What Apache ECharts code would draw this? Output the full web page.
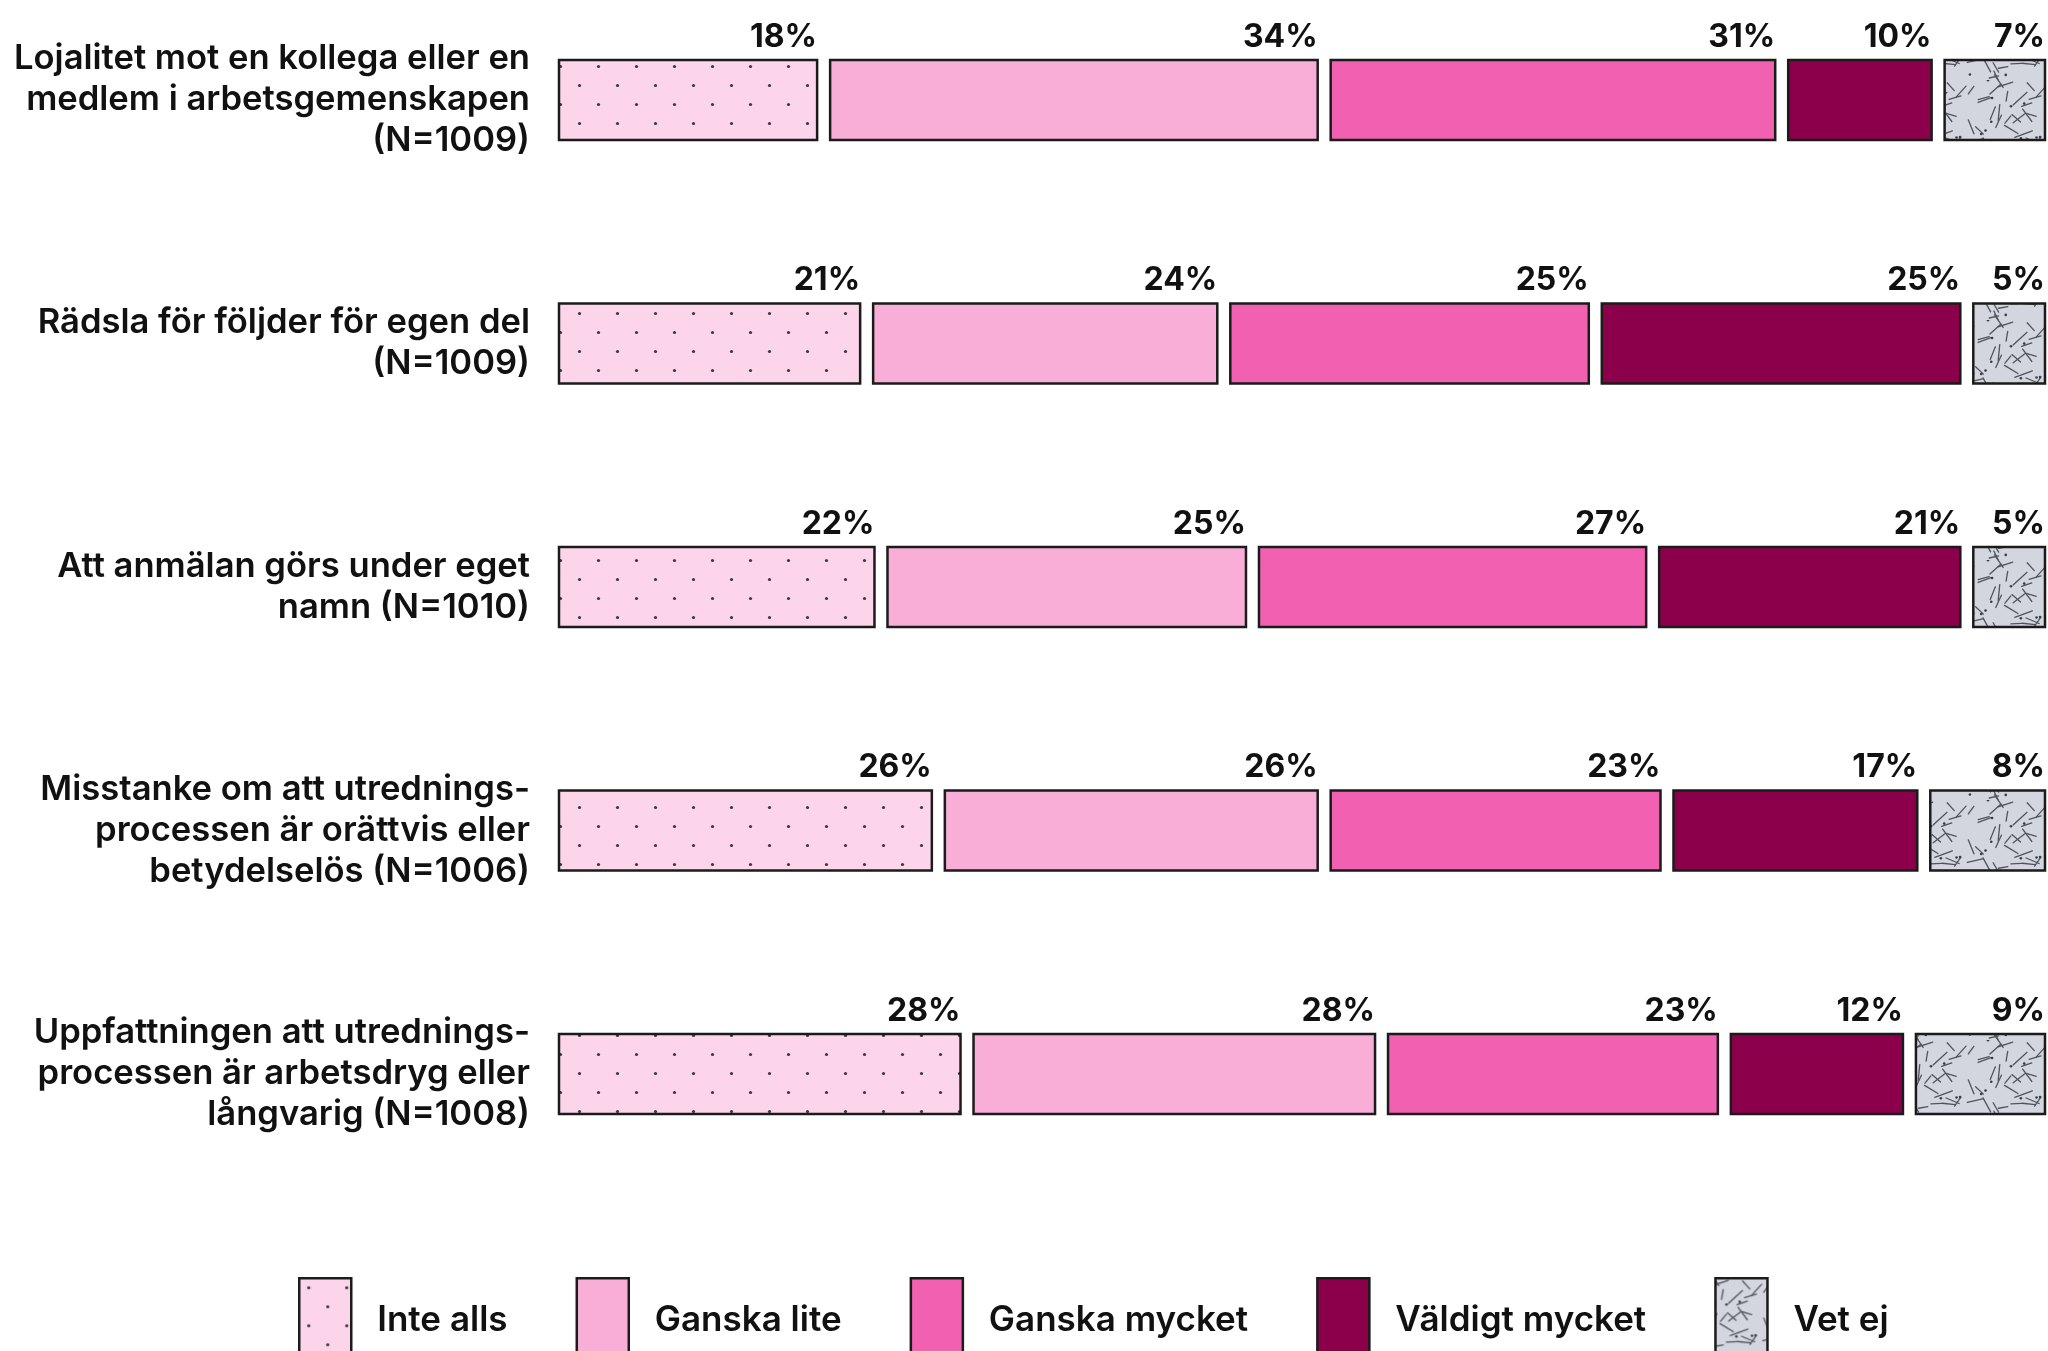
<!DOCTYPE html>
<html>
<head>
<meta charset="utf-8">
<script src="https://cdn.jsdelivr.net/npm/echarts@6/dist/echarts.min.js"></script>
<style>
  html, body { margin: 0; padding: 0; background: #fff; }
  #chart { width: 2048px; height: 1351px; }
</style>
</head>
<body>
<div id="chart"></div>
<script>
// categories (top to bottom)
const categories = [
  "Lojalitet mot en kollega eller en\nmedlem i arbetsgemenskapen\n(N=1009)",
  "Rädsla för följder för egen del\n(N=1009)",
  "Att anmälan görs under eget\nnamn (N=1010)",
  "Misstanke om att utrednings-\nprocessen är orättvis eller\nbetydelselös (N=1006)",
  "Uppfattningen att utrednings-\nprocessen är arbetsdryg eller\nlångvarig (N=1008)"
];

const seriesNames = ["Inte alls", "Ganska lite", "Ganska mycket", "Väldigt mycket", "Vet ej"];

// percentages per answer, one value per category
const inteAlls = [18, 21, 22, 26, 28];
const ganskaLite = [34, 24, 25, 26, 28];
const ganskaMycket = [31, 25, 27, 23, 23];
const valdigtMycket = [10, 25, 21, 17, 12];
const vetEj = [7, 5, 5, 8, 9];

const seriesValues = [inteAlls, ganskaLite, ganskaMycket, valdigtMycket, vetEj];

const GAP = 13;
const BAR_H = 80;
const FONT = "Inter, 'Noto Sans', sans-serif";
const BORDER = "#1b1b1b";

// dotted pattern for "Inte alls"
function dotPattern() {
  const c = document.createElement("canvas");
  c.width = 38;
  c.height = 38;
  const ctx = c.getContext("2d");
  ctx.fillStyle = "#fdd5ea";
  ctx.fillRect(0, 0, 38, 38);
  ctx.fillStyle = "#3a3a3a";
  [[9.5, 9.5], [28.5, 28.5]].forEach(([x, y]) => {
    ctx.beginPath();
    ctx.arc(x, y, 1.6, 0, Math.PI * 2);
    ctx.fill();
  });
  return { image: c, repeat: "repeat" };
}

// scattered dashes pattern for "Vet ej" (fixed seed so it is always the same)
function dashPattern() {
  const size = 80;
  const c = document.createElement("canvas");
  c.width = size;
  c.height = size;
  const ctx = c.getContext("2d");
  ctx.fillStyle = "#d3d6de";
  ctx.fillRect(0, 0, size, size);
  let seed = 12345;
  const rnd = () => {
    seed = (seed * 16807) % 2147483647;
    return seed / 2147483647;
  };
  ctx.strokeStyle = "#50545c";
  ctx.lineWidth = 1.3;
  ctx.lineCap = "round";
  for (let i = 0; i < 34; i++) {
    const x = rnd() * size;
    const y = rnd() * size;
    const a = rnd() * Math.PI;
    const len = 9 + rnd() * 10;
    for (const dx of [-size, 0, size]) {
      for (const dy of [-size, 0, size]) {
        ctx.beginPath();
        ctx.moveTo(x + dx, y + dy);
        ctx.lineTo(x + dx + Math.cos(a) * len, y + dy + Math.sin(a) * len);
        ctx.stroke();
      }
    }
  }
  ctx.fillStyle = "#3a3d44";
  for (let i = 0; i < 12; i++) {
    ctx.beginPath();
    ctx.arc(rnd() * size, rnd() * size, 1.3, 0, Math.PI * 2);
    ctx.fill();
  }
  return { image: c, repeat: "repeat" };
}

const fills = [dotPattern(), "#f8aed7", "#f260b1", "#8c004b", dashPattern()];

function buildData(idx) {
  return categories.map((_, row) => {
    let start = 0;
    for (let k = 0; k < idx; k++) {
      start += seriesValues[k][row];
    }
    return [start, seriesValues[idx][row], row, idx];
  });
}

function makeRenderItem(fill) {
  return function (params, api) {
    const start = api.value(0);
    const val = api.value(1);
    const row = api.value(2);
    const idx = api.value(3);
    const p0 = api.coord([0, row]);
    const p100 = api.coord([100, row]);
    const unit = (p100[0] - p0[0] - GAP * 4) / 100;
    const left = p0[0] + start * unit + idx * GAP;
    const w = val * unit;
    const top = p0[1] - BAR_H / 2;
    return {
      type: "group",
      children: [
        {
          type: "rect",
          shape: { x: left, y: top, width: w, height: BAR_H },
          style: { fill: fill, stroke: BORDER, lineWidth: 2.5 },
        },
        {
          type: "text",
          style: {
            text: val + "%",
            x: left + w,
            y: top - 7,
            align: "right",
            verticalAlign: "bottom",
            fontFamily: FONT,
            fontWeight: 700,
            fontSize: 32,
            fill: "#111",
          },
        },
      ],
    };
  };
}

const chart = echarts.init(document.getElementById("chart"));

chart.setOption({
  animation: false,
  grid: {
    left: 559,
    right: 3,
    top: 100,
    bottom: 277,
    containLabel: false,
  },
  legend: {
    data: seriesNames,
    left: 293,
    top: 1272,
    itemWidth: 52,
    itemHeight: 84,
    itemGap: 68,
    icon: "rect",
    itemStyle: { borderColor: BORDER, borderWidth: 2.5 },
    textStyle: {
      fontFamily: FONT,
      fontWeight: 600,
      fontSize: 35,
      color: "#111",
      padding: [0, 0, 0, 21],
    },
  },
  xAxis: {
    type: "value",
    min: 0,
    max: 100,
    show: false,
  },
  yAxis: {
    type: "category",
    data: categories,
    inverse: true,
    boundaryGap: false,
    axisLine: { show: false },
    axisTick: { show: false },
    splitLine: { show: false },
    axisLabel: {
      margin: 29,
      fontFamily: FONT,
      fontWeight: 600,
      fontSize: 34.6,
      lineHeight: 41,
      color: "#111",
      align: "right",
    },
  },
  series: seriesNames.map((name, idx) => ({
    name: name,
    type: "custom",
    renderItem: makeRenderItem(fills[idx]),
    itemStyle: { color: fills[idx], borderColor: BORDER, borderWidth: 2.5 },
    encode: { x: [0, 1], y: 2 },
    data: buildData(idx),
  })),
});
</script>
</body>
</html>
